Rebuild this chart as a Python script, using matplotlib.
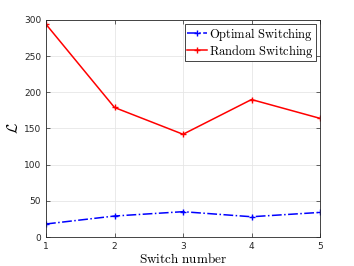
import matplotlib
matplotlib.use("Agg")
import matplotlib.pyplot as plt

plt.rcParams["mathtext.fontset"] = "cm"

# Données
switch_number = [1, 2, 3, 4, 5]
optimal = [18, 29, 35, 28, 34]
random_sw = [294, 179, 142, 190, 164]

fig = plt.figure(figsize=(3.54, 2.66), dpi=100)
ax = fig.add_axes([0.130, 0.109, 0.774, 0.816])

ax.plot(switch_number, optimal, color="blue", linestyle="-.", marker="+",
        markersize=4, linewidth=1.1, label=r"$\mathrm{Optimal\ Switching}$")
ax.plot(switch_number, random_sw, color="red", linestyle="-", marker="+",
        markersize=4, linewidth=1.1, label=r"$\mathrm{Random\ Switching}$")

ax.set_xlim(1, 5)
ax.set_ylim(0, 300)
ax.set_xticks([1, 2, 3, 4, 5])
ax.set_yticks([0, 50, 100, 150, 200, 250, 300])
ax.tick_params(direction="in", labelsize=6.5, colors="#262626", length=3,
               top=True, right=True, width=0.5)
for s in ax.spines.values():
    s.set_color("#262626")
    s.set_linewidth(0.6)
ax.grid(True, color="#e6e6e6", linewidth=0.6)

ax.set_xlabel(r"$\mathrm{Switch\ number}$", fontsize=9.5, labelpad=1)
ax.set_ylabel(r"$\mathcal{L}$", fontsize=11, labelpad=2)

leg = ax.legend(loc="upper right", fontsize=9, handlelength=1.6,
                borderpad=0.15, labelspacing=0.0, handletextpad=0.2,
                borderaxespad=0.3, fancybox=False, framealpha=1)
leg.get_frame().set_edgecolor("#262626")
leg.get_frame().set_linewidth(0.6)

fig.savefig("out.png", dpi=100)
